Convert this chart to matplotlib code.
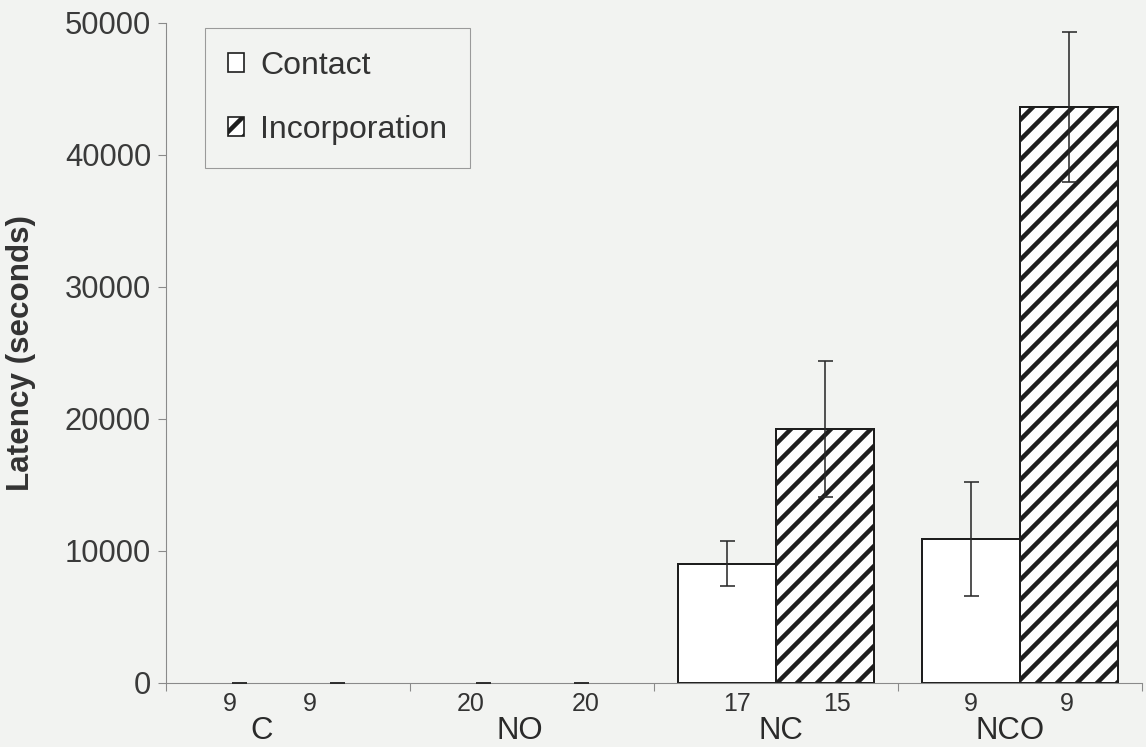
import numpy as np
import matplotlib
matplotlib.use("Agg")
import matplotlib.pyplot as plt
from matplotlib.patches import Patch

# latency per group, mean and error (seconds)
groups = ["C", "NO", "NC", "NCO"]
contact = [0, 0, 9050, 10900]
contact_err = [0, 0, 1700, 4300]
incorp = [0, 0, 19250, 43650]
incorp_err = [0, 0, 5150, 5700]
n_contact = [9, 20, 17, 9]
n_incorp = [9, 20, 15, 9]

DPI = 120
W, H = 1146, 747
bg = "#f2f3f1"
ink = "#1e1e1e"

plt.rcParams["font.family"] = ["Liberation Sans", "DejaVu Sans"]
plt.rcParams["hatch.linewidth"] = 2.7
plt.rcParams["hatch.color"] = ink

fig = plt.figure(figsize=(W / DPI, H / DPI), dpi=DPI, facecolor=bg)
ax = fig.add_axes([166 / W, 1 - 683 / H, (1142 - 166) / W, (683 - 23) / H])
ax.set_facecolor(bg)

x = np.arange(len(groups))
bw = 0.4

ax.bar(x - bw / 2, contact, bw, color="white", edgecolor=ink,
       linewidth=[1.2 if v > 0 else 0 for v in contact], zorder=2)
ax.bar(x + bw / 2, incorp, bw, color="white", edgecolor=ink, hatch="//",
       linewidth=[1.2 if v > 0 else 0 for v in incorp], zorder=2)

ax.errorbar(x - bw / 2, contact, yerr=contact_err, fmt="none", ecolor="#2a2a2a",
            elinewidth=0.95, capsize=4.5, capthick=0.95, zorder=3)
ax.errorbar(x + bw / 2, incorp, yerr=incorp_err, fmt="none", ecolor="#2a2a2a",
            elinewidth=0.95, capsize=4.5, capthick=0.95, zorder=3)

ax.set_xlim(-0.5, 3.5)
ax.set_ylim(0, 50000)
ax.set_yticks(np.arange(0, 50001, 10000))
ax.set_xticks(np.arange(-0.5, 3.6, 1.0))
ax.set_xticklabels([])

for s in ["top", "right"]:
    ax.spines[s].set_visible(False)
for s in ["left", "bottom"]:
    ax.spines[s].set_color("#8a8a8a")
    ax.spines[s].set_linewidth(0.65)
ax.tick_params(axis="both", direction="out", length=4.8, width=0.65, color="#8a8a8a")
ax.tick_params(axis="y", labelsize=18.6, labelcolor="#3a3a3a", pad=4.2)

ax.set_ylabel("Latency (seconds)", fontsize=18.8, fontweight="bold", color="#333333")
ax.yaxis.set_label_coords((36 - 166) / (1142 - 166), 0.5)

# sample sizes under each bar, group names below
n_nudge_c = [-0.04, -0.05, 0.04, 0.0]
n_nudge_i = [-0.11, 0.02, 0.05, -0.01]
g_nudge = [-0.11, -0.05, 0.02, -0.04]
ytxt_n = -0.032
ytxt_g = -0.072
for i in range(len(groups)):
    ax.text(x[i] - bw / 2 + n_nudge_c[i], ytxt_n, str(n_contact[i]),
            transform=ax.get_xaxis_transform(), ha="center", va="center",
            fontsize=15, color="#333333")
    ax.text(x[i] + bw / 2 + n_nudge_i[i], ytxt_n, str(n_incorp[i]),
            transform=ax.get_xaxis_transform(), ha="center", va="center",
            fontsize=15, color="#333333")
    ax.text(x[i] + g_nudge[i], ytxt_g, groups[i],
            transform=ax.get_xaxis_transform(), ha="center", va="center",
            fontsize=18.7, color="#2a2a2a")

handles = [Patch(facecolor="white", edgecolor=ink, linewidth=1.0, label="Contact"),
           Patch(facecolor="white", edgecolor=ink, linewidth=1.0, hatch="//",
                 label="Incorporation")]
leg = ax.legend(handles=handles, loc="upper left", bbox_to_anchor=(205 / W, 1 - 28 / H),
                bbox_transform=fig.transFigure, borderaxespad=0,
                fontsize=19.2, handlelength=0.5, handleheight=0.55,
                handletextpad=0.5, labelspacing=1.05, borderpad=0.72,
                fancybox=False, framealpha=1, facecolor=bg, edgecolor="#9a9a9a")
leg.get_frame().set_linewidth(0.65)
for t in leg.get_texts():
    t.set_color("#333333")

fig.savefig("out.png", dpi=DPI, facecolor=bg)
